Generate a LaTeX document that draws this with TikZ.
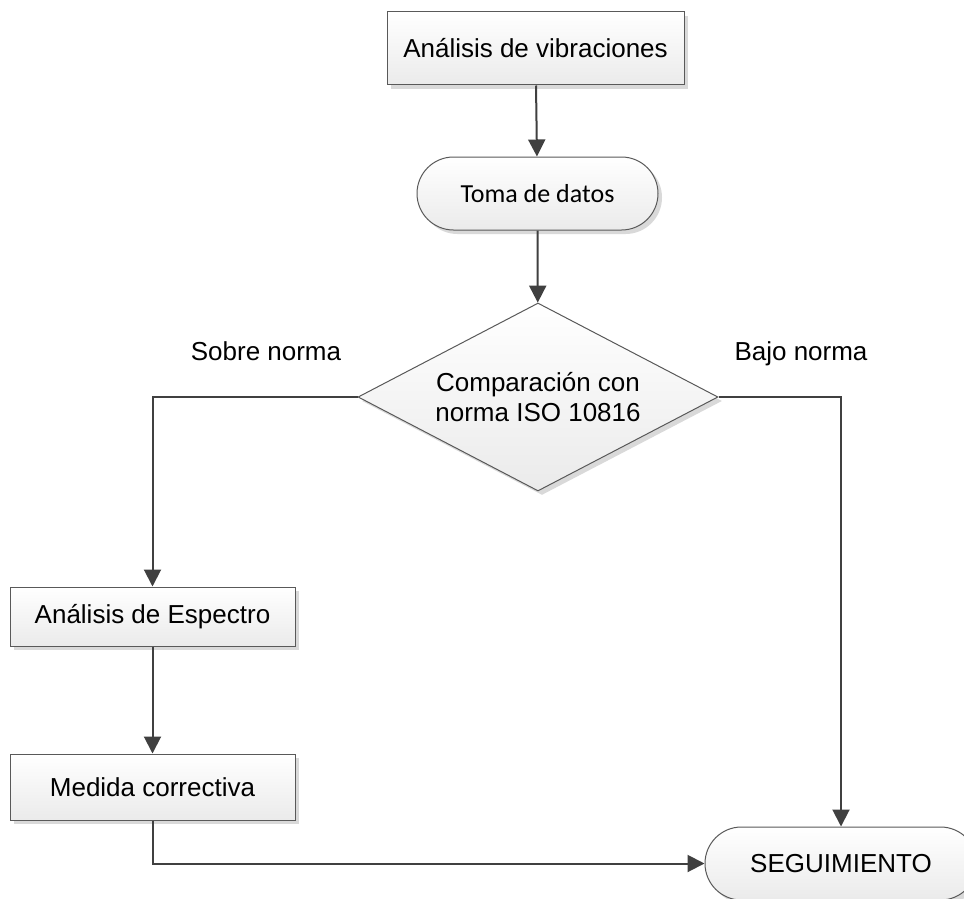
\documentclass[tikz,border=0pt]{standalone}
\usepackage{fontspec}
\setmainfont{Liberation Sans}
\newfontfamily\calibri{Carlito}
\usetikzlibrary{arrows.meta,shapes.geometric,shapes.misc,shadows}
\tikzset{
  shape base/.style={draw=black!65,line width=1pt,top color=white,bottom color=black!8,
    drop shadow={shadow xshift=4pt,shadow yshift=-4pt,fill=black!15,opacity=1},
    font=\fontsize{26}{30}\selectfont,inner sep=0pt},
  procbox/.style={shape base,rectangle},
  termbox/.style={shape base,rounded rectangle},
  decbox/.style={shape base,diamond,aspect=1.915,align=center},
  flow/.style={draw=black!75,line width=2pt,-{Triangle[length=17pt,width=17pt]}},
  lbl/.style={font=\fontsize{26}{30}\selectfont,anchor=base}
}
\begin{document}
\begin{tikzpicture}[x=1pt,y=-1pt]
\useasboundingbox[fill=white] (0,0) rectangle (964,899);
	\node[procbox,minimum width=297pt,minimum height=73pt] (vib) at (535.5,48.5){Análisis de vibraciones};
	\node[termbox,minimum width=241pt,minimum height=73pt,font=\calibri\fontsize{26}{30}\selectfont] (toma) at (537.5,193.5){Toma de datos};
	\node[decbox,minimum width=360pt,minimum height=188pt] (comp) at (538,397){Comparación con\\norma ISO 10816};
	\node[procbox,minimum width=285pt,minimum height=59pt] (esp) at (152.5,616.5){Análisis de Espectro};
	\node[procbox,minimum width=285pt,minimum height=66pt] (med) at (152.5,787){Medida correctiva};
	\node[termbox,minimum width=272pt,minimum height=73pt] (seg) at (841,863.5){SEGUIMIENTO};
	\node[lbl] (sobre) at (266,360){Sobre norma};
	\node[lbl] (bajo) at (801,360){Bajo norma};
	\draw[flow] (vib) -- (toma);
	\draw[flow] (toma) -- (comp);
	\draw[flow] (comp.west) -| (esp.north);
	\draw[flow] (comp.east) -| (seg.north);
	\draw[flow] (esp) -- (med);
	\draw[flow] (med.south) |- (seg.west);
\end{tikzpicture}
\end{document}
